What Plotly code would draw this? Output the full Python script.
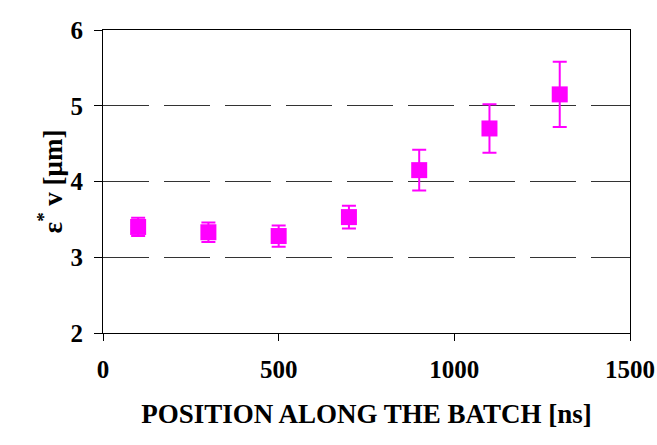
import plotly.graph_objects as go

# Bunch position along the batch (ns)
positions = [100, 300, 500, 700, 900, 1100, 1300]
# Normalised vertical emittance (um)
emittance = [3.40, 3.33, 3.28, 3.53, 4.15, 4.70, 5.15]
# Measurement uncertainty (um)
emittance_err = [0.12, 0.13, 0.14, 0.15, 0.27, 0.32, 0.43]

x_ticks = [0, 500, 1000, 1500]
y_ticks = [2, 3, 4, 5, 6]

MAGENTA = "#FF00FF"
FONT = "Liberation Serif, Times New Roman, serif"

fig = go.Figure(
    go.Scatter(
        x=positions,
        y=emittance,
        mode="markers",
        marker=dict(symbol="square", size=16, color=MAGENTA, line=dict(width=0)),
        error_y=dict(
            type="data",
            array=emittance_err,
            visible=True,
            color=MAGENTA,
            thickness=2,
            width=7,
        ),
        showlegend=False,
    )
)

fig.update_layout(
    width=657,
    height=445,
    margin=dict(l=103, r=27, t=30, b=112, autoexpand=False),
    paper_bgcolor="white",
    plot_bgcolor="white",
    font=dict(family=FONT, color="black"),
)

fig.update_xaxes(
    range=[0, 1500],
    tickvals=x_ticks,
    ticktext=[f"<b>{v}</b>" for v in x_ticks],
    ticks="outside",
    ticklen=7,
    tickwidth=1,
    tickcolor="black",
    tickfont=dict(family=FONT, size=25, color="black"),
    ticklabelstandoff=7,
    showline=True,
    linecolor="black",
    linewidth=1,
    mirror=True,
    showgrid=False,
    zeroline=False,
    automargin=False,
    title=dict(
        text="<b>POSITION ALONG THE BATCH [ns]</b>",
        font=dict(family=FONT, size=27, color="black"),
        standoff=22,
    ),
)

fig.update_yaxes(
    range=[2, 6],
    tickvals=y_ticks,
    ticktext=[f"<b>{v}</b>" for v in y_ticks],
    ticks="outside",
    ticklen=8,
    tickwidth=1,
    tickcolor="black",
    tickfont=dict(family=FONT, size=25, color="black"),
    ticklabelstandoff=6,
    showline=True,
    linecolor="black",
    linewidth=1,
    mirror=True,
    showgrid=True,
    gridcolor="#333333",
    gridwidth=1,
    griddash="46px,15px",
    zeroline=False,
    automargin=False,
    title=dict(
        text="<b>ε<sup>*</sup> v [μm]</b>",
        font=dict(family=FONT, size=27, color="black"),
        standoff=0,
    ),
)

fig.write_html("out.html")
